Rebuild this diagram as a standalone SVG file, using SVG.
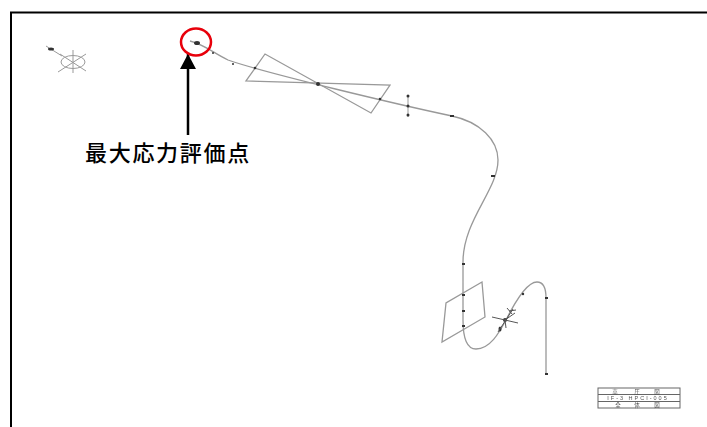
<svg xmlns="http://www.w3.org/2000/svg" width="707" height="427" viewBox="0 0 707 427">
<defs><filter id="b" x="-5%" y="-5%" width="110%" height="110%"><feGaussianBlur stdDeviation="0.7"/></filter>
<marker id="a" markerUnits="userSpaceOnUse" markerWidth="16" markerHeight="16" refX="15" refY="8" orient="auto"><path d="M0 0L15 8L0 16Z" fill="#000"/></marker></defs>
<style>.p{fill:none;stroke:#999;stroke-width:1.300}.d{fill:#333;stroke:none}.k{fill:none;stroke:#999;stroke-width:1}.s{fill:none;stroke:#555;stroke-width:1}.t{font-family:"Liberation Sans","Noto Sans CJK JP",sans-serif;font-size:5.500px;fill:#555;text-anchor:middle}</style>
<rect width="707" height="427" fill="#fff"/>
<path d="M11 427V12.500H707" fill="none" stroke="#000" stroke-width="2"/>
<g id="drawing" filter="url(#b)">
<path class="p" d="M190 41C205 45 212 52 228 60C265 73 400 105 452 116C480 122 498 140 498 160C498 190 463 220 463 262V320C463 342 469 349 476 349C490 349 499 333 506 320C514 304 527 282 537 282C544 282 546 290 546 298V374"/>
<path class="p" d="M265 54L246 81L390 85L371 113Z"/>
<path class="p" d="M482 282L446 303L442 342L485 317Z"/>
<path class="k" d="M408 95V117"/>
<ellipse class="k" cx="73" cy="62" rx="12" ry="6.500"/>
<path class="k" d="M73 50V73M58 72L86 54M60 54L86 71M46 46L62 56"/>
<g class="d"><ellipse cx="197" cy="43" rx="3" ry="2"/><circle cx="318" cy="84" r="2"/><circle cx="408" cy="96" r="1.500"/><circle cx="408" cy="106" r="1.500"/><circle cx="408" cy="115" r="1.500"/><circle cx="380" cy="99" r="1.300"/><circle cx="255" cy="68" r="1.300"/><circle cx="213" cy="53" r="1"/><circle cx="233" cy="64" r="1"/><ellipse cx="51" cy="49" rx="3" ry="1.500"/><rect x="450" y="115" width="4" height="2"/><rect x="491" y="175" width="4" height="2"/><rect x="462" y="263" width="3" height="2"/><rect x="462" y="294" width="3" height="2"/><rect x="462" y="310" width="3" height="2"/><rect x="462" y="325" width="3" height="2"/><circle cx="505" cy="320" r="2"/><ellipse cx="500" cy="329" rx="1.500" ry="2.500"/><circle cx="523" cy="294" r="1.200"/><rect x="545" y="297" width="3" height="2"/><rect x="545" y="373" width="3" height="2"/></g>
<path class="s" d="M492 317L518 323M513 309L498 332M505 320L515 313M507 308L512 314M509 311L516 310M505 320L506 328"/>
<g fill="none" stroke="#666" stroke-width="1"><rect x="598" y="388" width="82" height="20"/><path d="M598 394.500H680M598 401.500H680"/></g>
<text class="t" x="638" y="400.200" letter-spacing="2">IF-3 HPCI-005</text>
<text class="t" x="615 637 657" y="393.500">高圧図</text>
<text class="t" x="618 637 657" y="407.200">全体図</text>
</g>
<g id="label">
<path d="M188 135V54" stroke="#000" stroke-width="2.500" fill="none" marker-end="url(#a)"/>
<ellipse cx="196" cy="42" rx="15" ry="13.500" fill="none" stroke="#e8000b" stroke-width="2.500"/>
<text x="85" y="161" font-family="'Noto Sans CJK JP',sans-serif" font-size="22" font-weight="500" letter-spacing="1.700" fill="#000">最大応力評価点</text>
</g>
</svg>
